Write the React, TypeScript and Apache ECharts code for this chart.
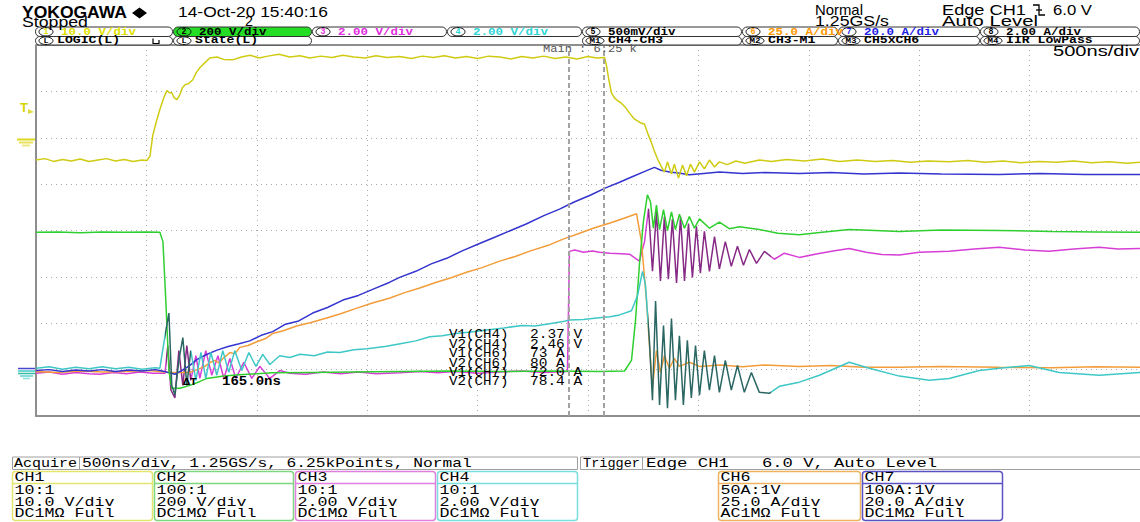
import React, { useEffect, useRef } from "react";
import * as echarts from "echarts";

// Time: ns from the left edge of the screen (500 ns/div, 10 div).
// Level: screen divisions from the centre line (8 div high).
const ch1Trace: [number, number][] = [
  [0, 1.52], [40, 1.55], [80, 1.49], [120, 1.53], [160, 1.5], [200, 1.54], [240, 1.49], [280, 1.52], [320, 1.55], [360, 1.5],
  [400, 1.53], [440, 1.49], [480, 1.52], [502, 1.51], [516, 1.6], [529, 2.05], [545, 2.35], [561, 2.61], [578, 2.85], [593, 3.02],
  [604, 2.97], [615, 2.97], [626, 2.86], [638, 2.82], [652, 2.93], [663, 3.08], [674, 3.14], [692, 3.17], [710, 3.25], [725, 3.4],
  [742, 3.51], [765, 3.62], [787, 3.72], [820, 3.74], [850, 3.69], [891, 3.68], [930, 3.74], [970, 3.78], [1010, 3.72], [1050, 3.76],
  [1100, 3.8], [1150, 3.74], [1195, 3.77], [1240, 3.72], [1290, 3.76], [1340, 3.73], [1390, 3.78], [1440, 3.74], [1490, 3.72], [1540, 3.77],
  [1590, 3.73], [1647, 3.75], [1700, 3.71], [1750, 3.76], [1800, 3.73], [1850, 3.77], [1900, 3.72], [1950, 3.75], [2000, 3.71], [2050, 3.76],
  [2100, 3.74], [2150, 3.7], [2200, 3.75], [2250, 3.72], [2300, 3.76], [2350, 3.71], [2400, 3.74], [2450, 3.7], [2500, 3.75], [2540, 3.72],
  [2575, 3.73], [2584, 3.55], [2593, 3.29], [2606, 2.97], [2620, 2.86], [2634, 2.8], [2652, 2.74], [2670, 2.65], [2690, 2.52], [2711, 2.4],
  [2735, 2.33], [2756, 2.29], [2770, 2.1], [2787, 1.9], [2800, 1.72], [2815, 1.54], [2833, 1.37], [2846, 1.26], [2860, 1.48], [2878, 1.22],
  [2891, 1.43], [2910, 1.13], [2928, 1.41], [2946, 1.18], [2964, 1.43], [2982, 1.26], [3005, 1.48], [3027, 1.33], [3050, 1.52], [3073, 1.37],
  [3095, 1.48], [3130, 1.42], [3170, 1.5], [3210, 1.45], [3276, 1.52], [3330, 1.49], [3400, 1.53], [3480, 1.5], [3560, 1.54], [3640, 1.49],
  [3720, 1.52], [3800, 1.49], [3880, 1.51], [3960, 1.47], [4040, 1.5], [4136, 1.48], [4220, 1.51], [4300, 1.47], [4380, 1.5], [4460, 1.46],
  [4540, 1.49], [4620, 1.47], [4700, 1.5], [4780, 1.46], [4860, 1.48], [4940, 1.45], [5000, 1.47],
];

const ch2Trace: [number, number][] = [
  [0, -0.04], [100, -0.03], [200, -0.05], [300, -0.03], [400, -0.04], [500, -0.03], [561, -0.04], [575, -0.24], [588, -1.52], [602, -3.02],
  [615, -3.4], [652, -3.4], [697, -3.34], [740, -3.26], [774, -3.19], [850, -3.14], [923, -3.11], [1000, -3.09], [1072, -3.07], [1250, -3.06],
  [1421, -3.05], [1650, -3.04], [1873, -3.03], [2100, -3.04], [2326, -3.03], [2552, -3.04], [2665, -3.03], [2697, -2.8], [2715, -1.95], [2733, -0.73],
  [2751, 0.19], [2769, 0.77], [2783, 0.62], [2796, 0.05], [2810, 0.55], [2824, 0.02], [2842, 0.45], [2860, 0.0], [2878, 0.4], [2896, 0.02],
  [2914, 0.35], [2937, 0.05], [2959, 0.3], [2982, 0.05], [3005, 0.25], [3050, 0.05], [3095, 0.18], [3140, 0.04], [3186, 0.08], [3276, 0.02],
  [3360, -0.06], [3457, -0.09], [3560, -0.04], [3683, 0.02], [3800, 0.0], [3910, -0.02], [4100, 0.01], [4362, 0.0], [4600, -0.02], [4800, -0.03],
  [5000, -0.04],
];

const ch3Trace: [number, number][] = [
  [0, -3.08], [60, -3.05], [120, -3.1], [180, -3.06], [240, -3.09], [290, -3.1], [350, -3.06], [410, -3.09], [470, -3.05], [530, -3.08],
  [584, -3.08], [597, -2.48], [611, -3.44], [629, -3.61], [647, -2.59], [665, -3.34], [683, -2.48], [701, -3.23], [724, -2.7], [742, -3.19],
  [769, -2.59], [796, -3.12], [824, -2.7], [851, -3.19], [878, -2.76], [905, -3.19], [941, -2.84], [977, -3.19], [1014, -2.93], [1059, -3.19],
  [1104, -3.02], [1149, -3.08], [1220, -3.1], [1300, -3.05], [1380, -3.09], [1460, -3.05], [1540, -3.09], [1647, -3.07], [1740, -3.04], [1820, -3.07],
  [1900, -3.04], [2000, -3.08], [2100, -3.05], [2200, -3.03], [2300, -3.06], [2407, -3.04], [2416, -0.45], [2440, -0.42], [2480, -0.47], [2520, -0.44],
  [2552, -0.47], [2600, -0.49], [2650, -0.5], [2688, -0.51], [2733, -0.66], [2756, -0.24], [2774, 0.47], [2792, -0.88], [2810, 0.41], [2828, -1.09],
  [2846, 0.3], [2864, -1.05], [2882, 0.24], [2901, -1.13], [2919, 0.3], [2937, -1.09], [2955, 0.15], [2973, -1.01], [2991, 0.09], [3009, -0.92],
  [3027, -0.02], [3050, -0.88], [3073, -0.13], [3095, -0.83], [3122, -0.24], [3149, -0.77], [3177, -0.34], [3204, -0.75], [3231, -0.41], [3263, -0.71],
  [3299, -0.45], [3344, -0.62], [3389, -0.49], [3457, -0.58], [3540, -0.5], [3610, -0.44], [3683, -0.39], [3760, -0.47], [3830, -0.52], [3910, -0.53],
  [4000, -0.47], [4136, -0.45], [4250, -0.4], [4362, -0.36], [4480, -0.42], [4588, -0.45], [4700, -0.4], [4815, -0.36], [4900, -0.4], [5000, -0.39],
];

const ch4Trace: [number, number][] = [
  [0, -2.97], [60, -2.94], [120, -2.99], [180, -2.95], [240, -2.98], [300, -2.94], [360, -2.98], [420, -2.95], [480, -2.99], [540, -2.96],
  [561, -2.97], [588, -2.16], [602, -1.78], [615, -3.34], [629, -3.55], [647, -2.8], [665, -2.31], [683, -3.34], [701, -2.59], [724, -3.23],
  [747, -2.63], [769, -3.19], [792, -2.63], [819, -3.12], [846, -2.59], [873, -3.06], [900, -2.59], [932, -3.02], [964, -2.63], [996, -2.93],
  [1027, -2.67], [1059, -2.89], [1104, -2.7], [1150, -2.74], [1195, -2.67], [1260, -2.7], [1320, -2.62], [1376, -2.63], [1440, -2.57], [1500, -2.55],
  [1580, -2.5], [1650, -2.44], [1720, -2.38], [1783, -2.29], [1840, -2.27], [1900, -2.22], [1970, -2.19], [2050, -2.14], [2120, -2.1], [2200, -2.05],
  [2260, -2.06], [2326, -2.01], [2380, -1.97], [2416, -1.93], [2480, -1.92], [2550, -1.88], [2600, -1.86], [2643, -1.82], [2697, -1.73], [2724, -1.41],
  [2747, -0.88], [2760, -1.16], [2778, -2.37], [2792, -3.66], [2806, -1.52], [2824, -3.76], [2842, -2.05], [2860, -3.83], [2878, -1.9], [2896, -3.66],
  [2914, -2.27], [2932, -3.76], [2950, -2.37], [2968, -3.61], [2987, -2.48], [3005, -3.55], [3027, -2.59], [3050, -3.44], [3073, -2.7], [3095, -3.49],
  [3122, -2.8], [3149, -3.44], [3177, -2.91], [3208, -3.49], [3240, -3.06], [3276, -3.49], [3321, -3.51], [3367, -3.36], [3457, -3.27], [3548, -3.12],
  [3683, -2.84], [3774, -2.97], [3910, -3.14], [4045, -3.23], [4136, -3.19], [4272, -3.02], [4362, -2.97], [4498, -2.91], [4634, -3.06], [4815, -3.12],
  [5000, -3.06],
];

const ch6Trace: [number, number][] = [
  [0, -3.04], [100, -3.06], [200, -3.03], [300, -3.05], [400, -3.04], [516, -3.02], [600, -3.06], [697, -3.06], [730, -3.0], [765, -2.93],
  [790, -2.84], [810, -2.8], [830, -2.86], [846, -2.76], [862, -2.7], [878, -2.63], [900, -2.66], [923, -2.52], [960, -2.48], [1000, -2.4],
  [1040, -2.33], [1072, -2.22], [1120, -2.16], [1180, -2.06], [1250, -1.98], [1320, -1.88], [1376, -1.8], [1450, -1.68], [1520, -1.57], [1600, -1.46],
  [1670, -1.34], [1738, -1.24], [1810, -1.12], [1880, -1.02], [1950, -0.9], [2020, -0.8], [2100, -0.66], [2170, -0.56], [2240, -0.44], [2320, -0.32],
  [2390, -0.18], [2462, -0.06], [2530, 0.06], [2600, 0.16], [2660, 0.26], [2720, 0.36], [2742, -0.24], [2765, -1.52], [2783, -2.8], [2792, -3.38],
  [2810, -2.59], [2828, -3.06], [2846, -2.7], [2869, -2.97], [2891, -2.76], [2914, -2.93], [2959, -2.84], [3005, -2.93], [3100, -2.9], [3200, -2.94],
  [3300, -2.9], [3457, -2.93], [3600, -2.91], [3750, -2.95], [3910, -2.95], [4100, -2.93], [4362, -2.95], [4600, -2.96], [4800, -2.94], [5000, -2.95],
];

const ch7Trace: [number, number][] = [
  [0, -3.02], [60, -3.0], [120, -3.04], [180, -3.01], [240, -3.03], [300, -3.0], [360, -3.04], [420, -3.01], [480, -3.03], [540, -3.0],
  [561, -3.02], [600, -3.06], [629, -3.1], [660, -3.02], [697, -2.91], [730, -2.78], [770, -2.68], [820, -2.58], [870, -2.5], [920, -2.44],
  [968, -2.38], [1020, -2.26], [1072, -2.18], [1130, -2.02], [1190, -1.95], [1253, -1.78], [1320, -1.66], [1390, -1.5], [1460, -1.4], [1530, -1.26],
  [1600, -1.12], [1647, -1.01], [1720, -0.88], [1790, -0.72], [1860, -0.6], [1930, -0.44], [2009, -0.28], [2080, -0.14], [2150, 0.0], [2220, 0.14],
  [2300, 0.32], [2371, 0.46], [2440, 0.62], [2510, 0.76], [2580, 0.92], [2643, 1.04], [2700, 1.16], [2760, 1.28], [2801, 1.36], [2830, 1.3],
  [2869, 1.26], [2910, 1.24], [2959, 1.2], [3000, 1.22], [3095, 1.26], [3200, 1.23], [3300, 1.25], [3457, 1.23], [3600, 1.25], [3750, 1.22],
  [3910, 1.24], [4100, 1.22], [4362, 1.21], [4550, 1.23], [4750, 1.21], [5000, 1.21],
];

// cursor positions (ns) and readouts
const cursorTimes = [2412, 2570];
const cursorReadout = "Main : 6.25 k";
const deltaLabel = "ΔT";
const deltaValue = "165.0ns";
const measLabels = ["V1(CH4)", "V2(CH4)", "V1(CH6)", "V2(CH6)", "V1(CH7)", "V2(CH7)"];
const measValues = ["2.37 V", "2.46 V", "73 A", "80 A", "72.0 A", "78.4 A"];

// channel tabs along the top
const tabMarks = ["1", "2", "3", "4", "5", "6", "7", "8"];
const tabScales = ["10.0 V/div", "200 V/div", "2.00 V/div", "2.00 V/div", "500mV/div", "25.0 A/div", "20.0 A/div", "2.00 A/div"];
const tabRow2Marks = ["L", "L", "", "", "M1", "M2", "M3", "M4"];
const tabRow2Text = ["LOGIC(L)", "State(L)", "", "", "CH4-CH3", "CH3-M1", "CH5xCH6", "IIR LowPass"];

// channel setting panels along the bottom
const panelNames = ["CH1", "CH2", "CH3", "CH4", "CH6", "CH7"];
const panelProbes = ["10:1", "100:1", "10:1", "10:1", "50A:1V", "100A:1V"];
const panelScales = ["10.0 V/div", "200 V/div", "2.00 V/div", "2.00 V/div", "25.0 A/div", "20.0 A/div"];
const panelInputs = ["DC1MΩ Full", "DC1MΩ Full", "DC1MΩ Full", "DC1MΩ Full", "AC1MΩ Full", "DC1MΩ Full"];

const SANS = "Liberation Sans";
const MONO = "Liberation Mono";

const C = {
  ch1: "#cfcb12",
  ch2: "#2fcf2f",
  ch3: "#d63ed6",
  ch3Dark: "#862a86",
  ch4: "#3fc7c7",
  ch4Dark: "#2a6763",
  ch6: "#f29c3a",
  ch7: "#3434cf",
};

let measureCtx: CanvasRenderingContext2D | null = null;
function textWidth(text: string, size: number, weight: string, family: string) {
  if (!measureCtx) measureCtx = document.createElement("canvas").getContext("2d");
  if (!measureCtx) return text.length * size * 0.6;
  measureCtx.font = `${weight} ${size}px "${family}"`;
  return measureCtx.measureText(text).width || text.length * size * 0.6;
}

type FitOpts = { size?: number; weight?: string; color?: string; family?: string; z?: number };
function fit(text: string, x0: number, x1: number, cy: number, o: FitOpts = {}) {
  const size = o.size ?? 12;
  const weight = o.weight ?? "normal";
  const family = o.family ?? MONO;
  const w = textWidth(text, size, weight, family);
  return {
    type: "text",
    x: x0,
    y: cy,
    scaleX: (x1 - x0) / w,
    z: o.z ?? 30,
    silent: true,
    style: {
      text,
      fill: o.color ?? "#000",
      fontSize: size,
      fontWeight: weight,
      fontFamily: family,
      textAlign: "left",
      textVerticalAlign: "middle",
      align: "left",
      verticalAlign: "middle",
    },
  };
}

function hline(x1: number, x2: number, y: number, stroke: string, lineWidth = 1, z = 30) {
  return { type: "line", z, silent: true, shape: { x1, y1: y, x2, y2: y }, style: { stroke, lineWidth } };
}

function edgeIcon(x: number, cy: number) {
  return {
    type: "group",
    z: 30,
    children: [
      { type: "polyline", shape: { points: [[x, cy - 5], [x + 6, cy - 5], [x + 6, cy + 5], [x + 12, cy + 5]] }, style: { stroke: "#000", lineWidth: 1.3, fill: null } },
      { type: "line", shape: { x1: x + 3, y1: cy, x2: x + 9, y2: cy }, style: { stroke: "#000", lineWidth: 1.3 } },
    ],
  };
}

function buildGraphics() {
  const els: any[] = [];

  // header
  els.push(fit("YOKOGAWA", 22, 127, 13, { size: 16, weight: "bold", family: SANS }));
  els.push({ type: "polygon", z: 30, shape: { points: [[132, 13], [139.5, 7.5], [147, 13], [139.5, 18.5]] }, style: { fill: "#000" } });
  els.push(fit("14-Oct-20 15:40:16", 178, 328, 12, { size: 14, family: SANS }));
  els.push(fit("Stopped", 22, 88, 22.5, { size: 14, family: SANS }));
  els.push(fit("2", 245, 253, 21.5, { size: 14, family: SANS }));
  els.push(fit("Normal", 815, 863, 10, { size: 14, family: SANS }));
  els.push(fit("1.25GS/s", 815, 889, 21, { size: 14, family: SANS }));
  els.push(fit("Edge CH1", 942, 1026, 10, { size: 14, family: SANS }));
  els.push(edgeIcon(1033, 10));
  els.push(fit("6.0 V", 1053, 1092, 10, { size: 14, family: SANS }));
  els.push(fit("Auto Level", 942, 1038, 21, { size: 14, family: SANS }));

  // channel tabs
  const bounds = [35, 173, 312, 447, 582, 742, 838, 980, 1140];
  const tabColors = ["#e0e000", "#000", "#e02ee0", "#2fd6d6", "#000", "#ff9800", "#1e1ee6", "#000"];
  for (let i = 0; i < 8; i++) {
    const x0 = bounds[i];
    const x1 = bounds[i + 1];
    els.push({
      type: "rect", z: 25, silent: true,
      shape: { x: x0 + 0.5, y: 27, width: x1 - x0 - 1, height: 9.5, r: 4.5 },
      style: { fill: i === 1 ? "#26dd26" : "#fff", stroke: "#333", lineWidth: 1 },
    });
    els.push({
      type: "ellipse", z: 26, silent: true,
      shape: { cx: x0 + 11, cy: 31.75, rx: 7, ry: 4.2 },
      style: { fill: i === 1 ? "#26dd26" : "#fff", stroke: "#111", lineWidth: 1 },
    });
    els.push(fit(tabMarks[i], x0 + 8.5, x0 + 13.5, 31.9, { size: 9, weight: "bold", color: tabColors[i] }));
    const s = tabScales[i];
    els.push(fit(s, x0 + 26, x0 + 26 + s.length * 7.5, 31.9, { size: 10, weight: "bold", color: tabColors[i] }));
    if (tabRow2Marks[i]) {
      els.push({
        type: "rect", z: 25, silent: true,
        shape: { x: x0 + 0.5, y: 36.5, width: x1 - x0 - 1, height: 8.5, r: 4.2 },
        style: { fill: "#fff", stroke: "#333", lineWidth: 1 },
      });
      const m = tabRow2Marks[i];
      const rx = m.length > 1 ? 9 : 7;
      els.push({
        type: "ellipse", z: 26, silent: true,
        shape: { cx: x0 + 4 + rx, cy: 40.75, rx, ry: 3.8 },
        style: { fill: "#fff", stroke: "#111", lineWidth: 1 },
      });
      const mw = m.length > 1 ? 11 : 5;
      els.push(fit(m, x0 + 4 + rx - mw / 2, x0 + 4 + rx + mw / 2, 40.9, { size: 8, weight: "bold" }));
      const t = tabRow2Text[i];
      const tx = x0 + 8 + 2 * rx;
      els.push(fit(t, tx, tx + t.length * 7.9, 40.9, { size: 10, weight: "bold" }));
    }
  }
  els.push({ type: "polyline", z: 30, shape: { points: [[153, 38.5], [153, 43.5], [159, 43.5], [159, 40]] }, style: { stroke: "#000", lineWidth: 1.2, fill: null } });

  // plot frame top edge and time/div
  els.push(hline(36, 1140, 45, "#8e8e8e", 2, 5));
  els.push(fit("500ns/div", 1053, 1139, 51, { size: 14, family: SANS }));

  // cursor readout and measurements
  els.push(fit(cursorReadout, 543, 637, 49, { size: 11, color: "#555" }));
  els.push(fit(deltaLabel, 183, 197, 382, { size: 11, weight: "bold" }));
  els.push(fit(deltaValue, 222, 281, 382, { size: 12, weight: "bold" }));
  const measY = [335, 344.5, 354, 363.5, 372.8, 382.2];
  measLabels.forEach((lab, i) => {
    els.push(fit(lab, 449, 449 + lab.length * 8.5, measY[i], { size: 12 }));
    const v = measValues[i];
    els.push(fit(v, 530, 530 + v.length * 8.7, measY[i], { size: 12 }));
  });

  // trigger level and ground markers on the left
  els.push(fit("T", 20, 28, 108, { size: 12, weight: "bold", color: "#d8d400", family: SANS }));
  els.push({ type: "polygon", z: 30, shape: { points: [[28, 109], [34, 112], [28, 114]] }, style: { fill: "#e0dc40" } });
  els.push(hline(17, 35, 139.5, "#dcd820", 2));
  els.push(hline(19, 33, 142.5, "#e6e35a", 2));
  els.push(hline(22, 30, 145.5, "#eeea80", 2));
  els.push(hline(18, 35, 368.5, "#4646d0", 1.5));
  els.push(hline(18, 35, 371, "#3fc7c7", 1.5));
  els.push(hline(18, 35, 373.5, "#2fbf9f", 1.5));
  els.push(hline(20, 33, 376, "#62d2d2", 1.5));
  els.push(hline(23, 30, 378.5, "#8adede", 1.5));

  // bottom status lines
  els.push({ type: "rect", z: 25, silent: true, shape: { x: 12.5, y: 457, width: 565, height: 12.5 }, style: { fill: "#fff", stroke: "#a0a0a0", lineWidth: 1 } });
  els.push({ type: "line", z: 26, silent: true, shape: { x1: 79.5, y1: 457, x2: 79.5, y2: 469.5 }, style: { stroke: "#a0a0a0", lineWidth: 1 } });
  els.push(fit("Acquire", 14, 77, 463.5, { size: 13 }));
  els.push(fit("500ns/div, 1.25GS/s, 6.25kPoints, Normal", 82, 472, 463.5, { size: 13 }));
  els.push({ type: "rect", z: 25, silent: true, shape: { x: 580.5, y: 457, width: 570, height: 12.5 }, style: { fill: "#fff", stroke: "#a0a0a0", lineWidth: 1 } });
  els.push({ type: "line", z: 26, silent: true, shape: { x1: 642.5, y1: 457, x2: 642.5, y2: 469.5 }, style: { stroke: "#a0a0a0", lineWidth: 1 } });
  els.push(fit("Trigger", 583, 640, 463.5, { size: 13 }));
  els.push(fit("Edge CH1", 646, 729, 463.5, { size: 13 }));
  els.push(edgeIcon(733, 463.5));
  els.push(fit("6.0 V, Auto Level", 762, 937, 463.5, { size: 13 }));

  // channel setting panels
  const px = [12, 154, 295, 437, 718, 862];
  const pw = [140, 139, 140, 140, 142, 140];
  const pc = ["#e4e46e", "#7ed67e", "#df7fdf", "#79dede", "#efb35f", "#5a52c2"];
  for (let i = 0; i < panelNames.length; i++) {
    const x = px[i];
    els.push({ type: "rect", z: 25, silent: true, shape: { x: x + 0.5, y: 471.5, width: pw[i], height: 49, r: 3 }, style: { fill: "#fff", stroke: pc[i], lineWidth: 1.5 } });
    els.push(hline(x + 1, x + pw[i], 483.5, pc[i], 1.5, 26));
    const tx = x + 2.5;
    const lines: [string, number][] = [
      [panelNames[i], 478],
      [panelProbes[i], 491],
      [panelScales[i], 502.5],
      [panelInputs[i], 513.5],
    ];
    lines.forEach(([s, cy]) => {
      els.push(fit(s, tx, tx + s.length * 10, cy, { size: 13 }));
    });
  }
  return els;
}

function makeSeries(name: string, data: [number, number][], color: string | null, extra: any = {}) {
  return {
    name,
    type: "line",
    data,
    showSymbol: false,
    symbol: "none",
    silent: true,
    clip: true,
    lineStyle: color ? { color, width: 1.5 } : { width: 1.5 },
    ...extra,
  };
}

export default function App() {
  const ref = useRef<HTMLDivElement>(null);

  useEffect(() => {
    if (!ref.current) return;
    const chart = echarts.init(ref.current, null, { renderer: "svg" });
    const gridSplit = { show: true, lineStyle: { color: "#a9a9a9", type: [1, 4], width: 1 } };
    const option: any = {
      animation: false,
      backgroundColor: "#ffffff",
      grid: { left: 36, top: 45, width: 1105, height: 371, containLabel: false },
      xAxis: {
        type: "value", min: 0, max: 5000, interval: 500,
        axisLabel: { show: false }, axisTick: { show: false },
        axisLine: { show: true, onZero: false, lineStyle: { color: "#8e8e8e", width: 2 } },
        splitLine: gridSplit,
      },
      yAxis: {
        type: "value", min: -4, max: 4, interval: 1,
        axisLabel: { show: false }, axisTick: { show: false },
        axisLine: { show: true, onZero: false, lineStyle: { color: "#8e8e8e", width: 2 } },
        splitLine: gridSplit,
      },
      // darker segments where the probe traces ring densely
      visualMap: [
        {
          show: false, type: "piecewise", dimension: 0, seriesIndex: 0,
          pieces: [
            { lt: 590, color: C.ch3 },
            { gte: 590, lt: 700, color: C.ch3Dark },
            { gte: 700, lt: 2770, color: C.ch3 },
            { gte: 2770, lt: 3330, color: C.ch3Dark },
            { gte: 3330, color: C.ch3 },
          ],
        },
        {
          show: false, type: "piecewise", dimension: 0, seriesIndex: 5,
          pieces: [
            { lt: 585, color: C.ch4 },
            { gte: 585, lt: 700, color: C.ch4Dark },
            { gte: 700, lt: 2770, color: C.ch4 },
            { gte: 2770, lt: 3330, color: C.ch4Dark },
            { gte: 3330, color: C.ch4 },
          ],
        },
      ],
      series: [
        makeSeries("CH3", ch3Trace, null, {
          markLine: {
            silent: true, symbol: ["none", "none"], label: { show: false },
            lineStyle: { color: "#a2a2a2", type: [5, 3], width: 2 },
            data: cursorTimes.map((t) => ({ xAxis: t })),
          },
        }),
        makeSeries("CH6", ch6Trace, C.ch6),
        makeSeries("CH7", ch7Trace, C.ch7),
        makeSeries("CH1", ch1Trace, C.ch1),
        makeSeries("CH2", ch2Trace, C.ch2),
        makeSeries("CH4", ch4Trace, null),
      ],
      graphic: { elements: buildGraphics() },
    };
    chart.setOption(option);
    return () => chart.dispose();
  }, []);

  return (
    <div
      ref={ref}
      style={{ position: "fixed", left: 0, top: 0, width: 1140, height: 522, background: "#fff" }}
    />
  );
}
